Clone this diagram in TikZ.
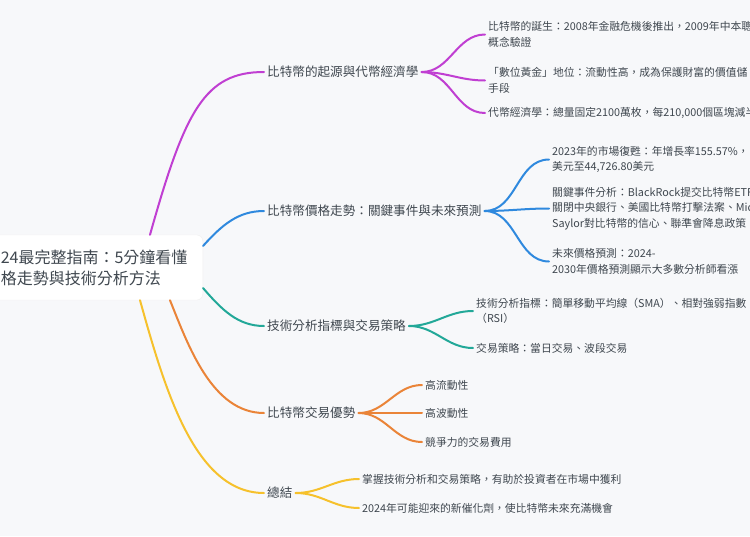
\documentclass[tikz,border=0pt]{standalone}
\usepackage{fontspec}
\setmainfont{Noto Sans CJK TC}
\usepackage{xcolor}
\usepackage{tikz}
\usetikzlibrary{positioning}
\definecolor{bgc}{HTML}{F7F8FA}
\definecolor{ink}{HTML}{3F474F}
\definecolor{cpurple}{HTML}{C03FD2}
\definecolor{cblue}{HTML}{2F89DE}
\definecolor{cteal}{HTML}{22A898}
\definecolor{corange}{HTML}{EA8438}
\definecolor{cyellow}{HTML}{F6C12C}

\begin{document}
\begin{tikzpicture}[x=1pt,y=-1pt,
  txt/.style={text=ink,inner sep=3pt,align=left,anchor=west},
  rootbox/.style={fill=white,draw=black!6,rounded corners=6pt,text=ink,
    font=\fontsize{16}{21}\selectfont,text width=188pt,align=left,
    inner xsep=14pt,inner ysep=0pt,minimum height=65pt,anchor=east},
  branch/.style={txt,font=\fontsize{12.6}{16}\selectfont},
  leaf/.style={txt,font=\fontsize{10.8}{15.5}\selectfont},
  link/.style={line width=2pt,line cap=round}]
\clip (0,0) rectangle (750,536);
\fill[bgc] (0,0) rectangle (750,536);

% root
\node[rootbox] (root) at (203,267.5) {24最完整指南：5分鐘看懂\\格走勢與技術分析方法};

% main branches
\node[branch] (b1) at (264,72) {比特幣的起源與代幣經濟學};
\node[branch] (b2) at (264,211) {比特幣價格走勢：關鍵事件與未來預測};
\node[branch] (b3) at (264,326) {技術分析指標與交易策略};
\node[branch] (b4) at (264,413) {比特幣交易優勢};
\node[branch] (b5) at (264,493) {總結};

% leaves
\node[leaf] (c11) at (485,34.5) {比特幣的誕生：2008年金融危機後推出，2009年中本聰\\概念驗證};
\node[leaf] (c12) at (485,80.5) {「數位黃金」地位：流動性高，成為保護財富的價值儲\\手段};
\node[leaf] (c13) at (485,113) {代幣經濟學：總量固定2100萬枚，每210,000個區塊減半};
\node[leaf] (c21) at (549,159.5) {2023年的市場復甦：年增長率155.57\%，\\美元至44,726.80美元};
\node[leaf] (c22) at (549,208.5) {關鍵事件分析：BlackRock提交比特幣ETF\\關閉中央銀行、美國比特幣打擊法案、Mic\\Saylor對比特幣的信心、聯準會降息政策};
\node[leaf] (c23) at (549,261.5) {未來價格預測：2024-\\2030年價格預測顯示大多數分析師看漲};
\node[leaf] (c31) at (473,311) {技術分析指標：簡單移動平均線（SMA）、相對強弱指數\\（RSI）};
\node[leaf] (c32) at (473,348) {交易策略：當日交易、波段交易};
\node[leaf] (c41) at (422,385) {高流動性};
\node[leaf] (c42) at (422,413) {高波動性};
\node[leaf] (c43) at (422,442) {競爭力的交易費用};
\node[leaf] (c51) at (359,479) {掌握技術分析和交易策略，有助於投資者在市場中獲利};
\node[leaf] (c52) at (359,508) {2024年可能迎來的新催化劑，使比特幣未來充滿機會};

% root links
\draw[link,cpurple] ([xshift=-53pt]root.north east) .. controls (185,110) and (205,72) .. (b1.west);
\draw[link,cblue] ([yshift=21.5pt]root.east) .. controls (222,225) and (238,211) .. (b2.west);
\draw[link,cteal] ([yshift=-20.5pt]root.east) .. controls (222,310) and (238,326) .. (b3.west);
\draw[link,corange] ([xshift=-33pt]root.south east) .. controls (188,345) and (212,413) .. (b4.west);
\draw[link,cyellow] ([xshift=-63pt]root.south east) .. controls (165,390) and (195,493) .. (b5.west);

% forks
\foreach \c in {c11,c12,c13} \draw[link,cpurple] (b1.east) to[out=0,in=180] (\c.west);
\foreach \c in {c21,c22,c23} \draw[link,cblue] (b2.east) to[out=0,in=180] (\c.west);
\foreach \c in {c31,c32} \draw[link,cteal] (b3.east) to[out=0,in=180] (\c.west);
\foreach \c in {c41,c42,c43} \draw[link,corange] (b4.east) to[out=0,in=180] (\c.west);
\foreach \c in {c51,c52} \draw[link,cyellow] (b5.east) to[out=0,in=180] (\c.west);
\end{tikzpicture}
\end{document}
